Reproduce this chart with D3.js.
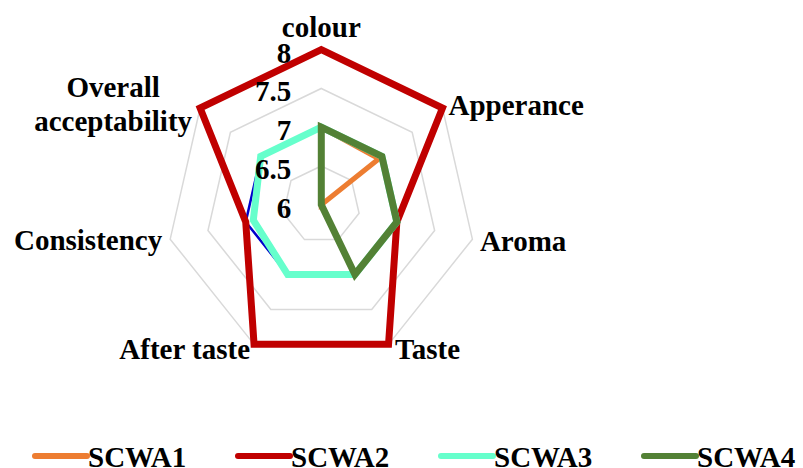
<!DOCTYPE html>
<html>
<head>
<meta charset="utf-8">
<script src="https://cdn.jsdelivr.net/npm/d3@7"></script>
<style>
  body { margin: 0; background: #fff; }
  text { font-family: "Liberation Serif", "Times New Roman", serif; font-weight: bold; fill: #000; }
</style>
</head>
<body>
<div id="chart"></div>
<script>
// categories around the radar, clockwise from the top
const categories = ["colour", "Apperance", "Aroma", "Taste", "After taste", "Consistency", "Overall acceptability"];
const tickValues = [6, 6.5, 7, 7.5, 8];

// series values (centre of the chart is 6)
const control = [7, 7, 7, 7, 7, 7, 7];
const scwa1 = [7, 6.95, 6, 6, 6, 6, 6];
const scwa2 = [8, 8, 7, 8, 8, 7, 8];
const scwa3 = [7, 7, 7, 7, 7, 6.9, 7];
const scwa4 = [7, 7, 7, 7, 6, 6, 6];

const seriesNames = ["Control", "SCWA1", "SCWA2", "SCWA3", "SCWA4"];
const seriesColors = ["#0000cc", "#ed7d31", "#c00000", "#66ffcc", "#538135"];
const seriesWidths = [2.5, 5, 7, 7, 7];
const legendNames = ["SCWA1", "SCWA2", "SCWA3", "SCWA4"];

let width = 803, height = 468;
let cx = 321.3, cy = 204.7;

let svg = d3.select("#chart").append("svg")
  .attr("width", width)
  .attr("height", height);

let rScale = d3.scaleLinear().domain([6, 8]).range([0, 155]);
let angle = d3.scaleLinear().domain([0, categories.length]).range([0, 2 * Math.PI]);

let g = svg.append("g").attr("transform", `translate(${cx},${cy})`);

// grid rings
let ring = d3.lineRadial()
  .angle((d, i) => angle(i))
  .radius(d => rScale(d))
  .curve(d3.curveLinearClosed);

g.selectAll(".ring")
  .data(tickValues.slice(1))
  .enter()
  .append("path")
  .attr("class", "ring")
  .attr("d", t => ring(categories.map(() => t)))
  .attr("fill", "none")
  .attr("stroke", "#d9d9d9")
  .attr("stroke-width", 1.5);

// series
let all = [control, scwa1, scwa2, scwa3, scwa4];
g.selectAll(".series")
  .data(all)
  .enter()
  .append("path")
  .attr("class", "series")
  .attr("d", d => ring(d))
  .attr("fill", "none")
  .attr("stroke", (d, i) => seriesColors[i])
  .attr("stroke-width", (d, i) => seriesWidths[i])
  .attr("stroke-linejoin", "miter");

// tick labels to the left of the vertical axis, drawn over the lines
g.selectAll(".tick")
  .data(tickValues)
  .enter()
  .append("text")
  .attr("class", "tick")
  .attr("x", -30)
  .attr("y", d => -rScale(d) + 13)
  .attr("text-anchor", "end")
  .attr("font-size", 29)
  .text(d => d);

// category labels
let labelLayout = [
  { dx: 0, dy: -13, anchor: "middle" },
  { dx: 6, dy: 7, anchor: "start" },
  { dx: 7.5, dy: 12, anchor: "start" },
  { dx: 6.5, dy: 15, anchor: "start" },
  { dx: -4, dy: 15, anchor: "end" },
  { dx: -8, dy: 11, anchor: "end" },
  { dx: -87, dy: -11, anchor: "middle" }
];

categories.forEach((c, i) => {
  let r = rScale(8);
  let x = r * Math.sin(angle(i)) + labelLayout[i].dx;
  let y = -r * Math.cos(angle(i)) + labelLayout[i].dy;
  let t = g.append("text")
    .attr("x", x)
    .attr("y", y)
    .attr("text-anchor", labelLayout[i].anchor)
    .attr("font-size", 29);
  if (c == "Overall acceptability") {
    t.append("tspan").attr("x", x).attr("dy", 0).text("Overall");
    t.append("tspan").attr("x", x).attr("dy", 34).text("acceptability");
  } else {
    t.text(c);
  }
});

// legend
let legendX = d3.scaleBand().domain(legendNames).range([35, 847]);
let legend = svg.selectAll(".legend")
  .data(legendNames)
  .enter()
  .append("g")
  .attr("class", "legend")
  .attr("transform", d => `translate(${legendX(d)}, 456)`);

legend.append("line")
  .attr("x1", 0).attr("x2", 52)
  .attr("y1", 0).attr("y2", 0)
  .attr("stroke", d => seriesColors[seriesNames.indexOf(d)])
  .attr("stroke-width", 6)
  .attr("stroke-linecap", "round");

legend.append("text")
  .attr("x", 53)
  .attr("y", 11)
  .attr("font-size", 29)
  .text(d => d);
</script>
</body>
</html>
